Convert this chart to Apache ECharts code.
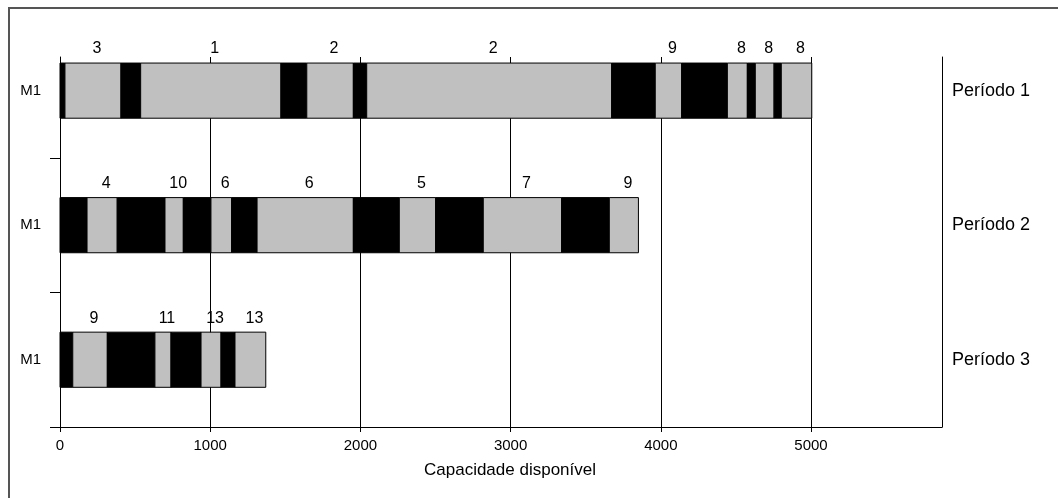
<!DOCTYPE html>
<html>
<head>
<meta charset="utf-8">
<script src="https://cdn.jsdelivr.net/npm/echarts@6/dist/echarts.min.js"></script>
<style>
  html, body { margin: 0; padding: 0; background: #fff; }
  #frame { position: absolute; left: 8px; top: 7px; width: 1060px; height: 500px;
           border-left: 2px solid #555; border-top: 2px solid #555; }
  #chart { position: absolute; left: 0; top: 0; width: 1058px; height: 498px; }
</style>
</head>
<body>
<div id="frame"></div>
<div id="chart"></div>
<script>
// ---- data ----
const machines = ['M1', 'M1', 'M1'];
const periods = ['Período 1', 'Período 2', 'Período 3'];
const rows = [1, 2, 3];
const rowSeparators = [1.5, 2.5, 3.5];
const xTicks = [0, 1000, 2000, 3000, 4000, 5000];
const xName = 'Capacidade disponível';
// segment boundaries per period; segments alternate setup (black) / job (grey), starting with setup
const p1Bounds = [0, 33, 406, 537, 1471, 1643, 1953, 2042, 3673, 3963, 4139, 4443, 4576, 4629, 4754, 4802, 5005];
const p1Jobs = ['3', '1', '2', '2', '9', '8', '8', '8'];
const p2Bounds = [0, 180, 381, 699, 821, 1005, 1143, 1312, 1953, 2259, 2501, 2818, 3340, 3657, 3851];
const p2Jobs = ['4', '10', '6', '6', '5', '7', '9'];
const p3Bounds = [0, 85, 315, 632, 739, 939, 1072, 1165, 1370];
const p3Jobs = ['9', '11', '13', '13'];

// ---- build series data ----
function buildSegments(row, bounds, jobs) {
  const out = [];
  for (let i = 0; i < bounds.length - 1; i++) {
    const isJob = i % 2 === 1;
    out.push([row, bounds[i], bounds[i + 1], isJob ? 1 : 0, isJob ? jobs[(i - 1) / 2] : '']);
  }
  return out;
}
const segData = []
  .concat(buildSegments(rows[0], p1Bounds, p1Jobs))
  .concat(buildSegments(rows[1], p2Bounds, p2Jobs))
  .concat(buildSegments(rows[2], p3Bounds, p3Jobs));

const FONT = '"Liberation Sans", Arial, sans-serif';
const chart = echarts.init(document.getElementById('chart'));

function renderItem(params, api) {
  const row = api.value(0);
  const p0 = api.coord([api.value(1), row]);
  const p1 = api.coord([api.value(2), row]);
  const h = api.size([0, 0.41])[1];
  const isJob = api.value(3) === 1;
  const label = segData[params.dataIndex][4];
  const children = [{
    type: 'rect',
    shape: { x: p0[0], y: p0[1] - h / 2, width: p1[0] - p0[0], height: h },
    style: { fill: isJob ? '#c0c0c0' : '#000000', stroke: '#000', lineWidth: 1 }
  }];
  if (isJob && label) {
    children.push({
      type: 'text',
      style: {
        text: label, x: (p0[0] + p1[0]) / 2 + 4, y: p0[1] - h / 2 - 14,
        fill: '#000', font: '16px ' + FONT, align: 'center', verticalAlign: 'middle'
      }
    });
  }
  return { type: 'group', children: children };
}

chart.setOption({
  animation: false,
  backgroundColor: 'transparent',
  grid: { left: 60, right: 116, top: 57, bottom: 71 },
  xAxis: {
    type: 'value', min: 0, max: 5872,
    name: xName, nameLocation: 'middle', nameGap: 35,
    nameTextStyle: { color: '#000', fontSize: 17, fontFamily: FONT, padding: [0, 0, 0, 18] },
    axisLine: { show: true, lineStyle: { color: '#000', width: 1 } },
    axisTick: { show: true, customValues: xTicks, length: 5, lineStyle: { color: '#000' } },
    axisLabel: { customValues: xTicks, color: '#000', fontSize: 15, fontFamily: FONT, margin: 11,
      formatter: v => String(v) },
    splitLine: { show: true, lineStyle: { color: '#000', width: 1 } }
  },
  yAxis: [{
    type: 'value', inverse: true, min: 0.75, max: 3.5, position: 'left',
    axisLine: { show: true, lineStyle: { color: '#000', width: 1 } },
    axisTick: { show: true, customValues: rowSeparators, length: 10, lineStyle: { color: '#000' } },
    axisLabel: { customValues: rows, color: '#000', fontSize: 15, fontFamily: FONT, margin: 19,
      formatter: v => machines[Math.round(v) - 1] },
    splitLine: { show: false }
  }, {
    type: 'value', inverse: true, min: 0.75, max: 3.5, position: 'right',
    axisLine: { show: true, lineStyle: { color: '#000', width: 1 } },
    axisTick: { show: false },
    axisLabel: { customValues: rows, color: '#000', fontSize: 18, fontFamily: FONT, margin: 10,
      formatter: v => periods[Math.round(v) - 1] },
    splitLine: { show: false }
  }],
  series: [{
    type: 'custom',
    renderItem: renderItem,
    encode: { x: [1, 2], y: 0 },
    data: segData,
    clip: false
  }]
});
</script>
</body>
</html>
